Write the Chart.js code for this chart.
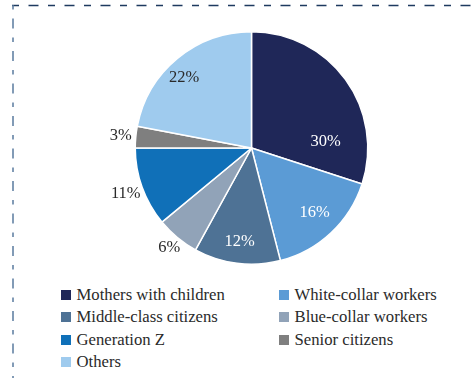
<!DOCTYPE html>
<html>
<head>
<meta charset="utf-8">
<script src="https://cdn.jsdelivr.net/npm/chart.js@4"></script>
<style>
    html, body { margin: 0; padding: 0; background: #fff; }
    #wrap { position: relative; width: 473px; height: 378px; overflow: hidden; }
    #frame { position: absolute; left: 0; top: 0; }
    #pieBox { position: absolute; left: 0; top: 0; width: 473px; height: 280px; }
    #legend {
        position: absolute; left: 61px; top: 285px;
        display: grid; grid-template-columns: 218px 180px; row-gap: 1.7px;
        font-family: "Liberation Serif", serif; font-size: 16.7px; color: #2a2a2a;
    }
    #legend div { display: flex; align-items: center; height: 20.5px; white-space: nowrap; }
    #legend span.box { display: inline-block; width: 10px; height: 10px; margin-right: 5.5px; }
</style>
</head>
<body>
<div id="wrap">
    <svg id="frame" width="473" height="378">
        <line x1="12" y1="5.5" x2="473" y2="5.5" stroke="#1e3a5f" stroke-width="1.5" stroke-dasharray="7 9.5 10 9.5"/>
        <line x1="13" y1="5" x2="13" y2="378" stroke="#5a7b9f" stroke-width="1.5" stroke-dasharray="4.5 9 10 9"/>
    </svg>
    <div id="pieBox"><canvas id="pie"></canvas></div>
    <div id="legend"></div>
</div>
<script>
const categories = [
    'Mothers with children',
    'White-collar workers',
    'Middle-class citizens',
    'Blue-collar workers',
    'Generation Z',
    'Senior citizens',
    'Others'
]
const shares = [30, 16, 12, 6, 11, 3, 22]
const colors = ['#1f2758', '#5b9bd5', '#4e7295', '#91a3b8', '#1070b8', '#7f7f7f', '#9fcbee']

// label placement: distance as fraction of radius, angle shift in degrees, text colour
const labelRadius = [0.64, 0.78, 0.81, 1.11, 1.15, 1.13, 0.84]
const labelShift = [31, -1, 0, 0, 0, 0, -4]
const labelColor = ['#fff', '#fff', '#fff', '#2a2a2a', '#2a2a2a', '#2a2a2a', '#2a2a2a']

const pctLabels = {
    id: 'pctLabels',
    afterDatasetsDraw(chart) {
        const ctx = chart.ctx
        const meta = chart.getDatasetMeta(0)
        ctx.save()
        ctx.font = '16.5px "Liberation Serif", serif'
        ctx.textAlign = 'center'
        ctx.textBaseline = 'middle'
        meta.data.forEach((arc, i) => {
            const a = (arc.startAngle + arc.endAngle) / 2 + labelShift[i] * Math.PI / 180
            const r = arc.outerRadius * labelRadius[i]
            ctx.fillStyle = labelColor[i]
            ctx.fillText(shares[i] + '%', arc.x + Math.cos(a) * r, arc.y + Math.sin(a) * r)
        })
        ctx.restore()
    }
}

const pie = new Chart(
    document.getElementById('pie'),
    {
        type: 'pie',
        data: {
            labels: categories,
            datasets: [{
                data: shares,
                backgroundColor: colors,
                borderColor: '#ffffff',
                borderWidth: 1.5
            }]
        },
        options: {
            responsive: true,
            maintainAspectRatio: false,
            animation: false,
            layout: {
                padding: { top: 31, bottom: 15, left: 134.5, right: 104.5 }
            },
            plugins: {
                legend: { display: false },
                tooltip: { enabled: false }
            }
        },
        plugins: [pctLabels]
    }
)

const legend = document.getElementById('legend')
categories.forEach((name, i) => {
    const item = document.createElement('div')
    const box = document.createElement('span')
    box.className = 'box'
    box.style.background = colors[i]
    item.appendChild(box)
    item.appendChild(document.createTextNode(name))
    legend.appendChild(item)
})
</script>
</body>
</html>
